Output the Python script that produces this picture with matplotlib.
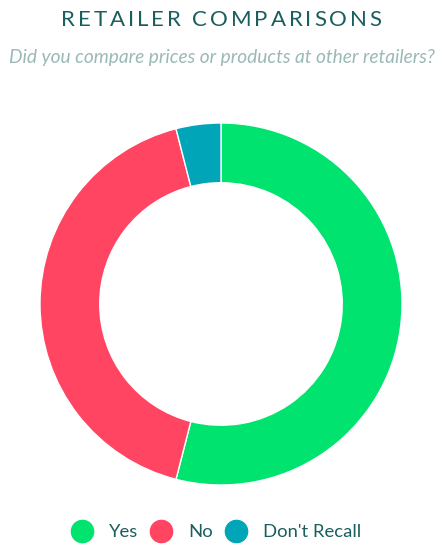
import matplotlib
matplotlib.use("Agg")
import matplotlib.pyplot as plt
from matplotlib.lines import Line2D

# data
labels = ["Yes", "No", "Don't Recall"]
values = [54, 42, 4]
colors = ["#00e36f", "#ff4562", "#00a6b8"]

title = "RETAILER COMPARISONS"
subtitle = "Did you compare prices or products at other retailers?"

W, H = 443, 554
fig = plt.figure(figsize=(W / 100, H / 100), dpi=100)
fig.patch.set_facecolor("white")

# donut centred at (221, 304) px, outer radius 181 px
cx, cy, r = 221, 304, 181
ax = fig.add_axes([(cx - r) / W, (H - cy - r) / H, 2 * r / W, 2 * r / H])
ax.pie(values, colors=colors, startangle=90, counterclock=False,
       radius=1.0, wedgeprops=dict(width=0.33, edgecolor="white", linewidth=1))
ax.set_xlim(-1, 1)
ax.set_ylim(-1, 1)
ax.set_aspect("equal")
ax.axis("off")

# title with letter spacing: place chars one by one
renderer = fig.canvas.get_renderer()
tcolor = "#1b5e5e"
spacing = 2.9  # px between letters
chars = []
for ch in title:
    t = fig.text(0, 1 - 20 / H, ch, ha="left", va="center", fontsize=16,
                 color=tcolor, family="Lato")
    chars.append(t)
widths = []
for t in chars:
    if t.get_text() == " ":
        widths.append(6)
    else:
        widths.append(t.get_window_extent(renderer).width)
total = sum(widths) + spacing * (len(widths) - 1)
x = (W - total) / 2
for t, w in zip(chars, widths):
    t.set_x(x / W)
    x += w + spacing

fig.text(0.5, 1 - 58 / H, subtitle, ha="center", va="center",
         fontsize=13.8, color="#9bb9b6", style="italic", family="Lato")

handles = [Line2D([], [], marker="o", linestyle="none", markersize=16,
                  markerfacecolor=c, markeredgecolor=c) for c in colors]
leg = fig.legend(handles, labels, loc="center", bbox_to_anchor=(0.483, 1 - 532 / H),
                 ncol=3, frameon=False, handlelength=1.6, handletextpad=0.65,
                 columnspacing=0.45, prop={"family": "Lato", "size": 13.3})
for t in leg.get_texts():
    t.set_color(tcolor)

fig.savefig("out.png", dpi=100)
